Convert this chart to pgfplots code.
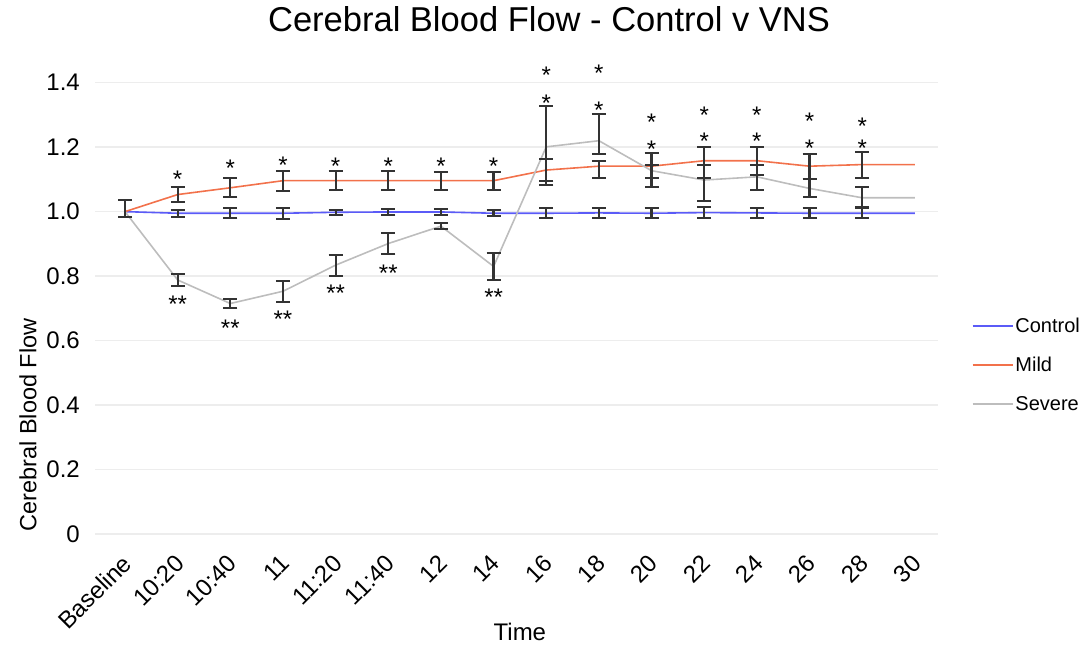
\documentclass[border=0pt]{standalone}
\usepackage{pgfplots}
\pgfplotsset{compat=1.18}
\usepackage{pgfplotstable}
\usepackage{fontspec}
\setmainfont{Liberation Sans}
\definecolor{ctrl}{HTML}{5B5BF7}
\definecolor{mild}{HTML}{F2714B}
\definecolor{sev}{HTML}{BDBDBD}
\definecolor{gridc}{HTML}{EDEDED}
\definecolor{errc}{HTML}{333333}

\pgfplotstableread{
x y
0 1.000
1 0.995
2 0.995
3 0.995
4 0.998
5 0.999
6 0.999
7 0.995
8 0.995
9 0.996
10 0.995
11 0.997
12 0.996
13 0.995
14 0.995
15 0.995
}\ctrl

\pgfplotstableread{
x y
0 1.000
1 1.053
2 1.074
3 1.096
4 1.096
5 1.096
6 1.096
7 1.096
8 1.129
9 1.141
10 1.141
11 1.158
12 1.158
13 1.141
14 1.146
15 1.146
}\mild

\pgfplotstableread{
x y
0 1.000
1 0.788
2 0.715
3 0.753
4 0.834
5 0.901
6 0.955
7 0.830
8 1.201
9 1.220
10 1.127
11 1.098
12 1.108
13 1.072
14 1.043
15 1.043
}\sev

\pgfplotstableread{
x y ep em
0 1.000 0.035 0.016
1 0.995 0.011 0.011
2 0.995 0.015 0.015
3 0.995 0.017 0.017
4 0.998 0.008 0.008
5 0.999 0.010 0.010
6 0.999 0.010 0.010
7 0.995 0.010 0.010
8 0.995 0.015 0.015
9 0.996 0.015 0.015
10 0.995 0.015 0.015
11 0.997 0.018 0.018
12 0.996 0.015 0.015
13 0.995 0.015 0.015
14 0.995 0.015 0.015
1 1.053 0.022 0.022
2 1.074 0.030 0.030
3 1.096 0.031 0.031
4 1.096 0.030 0.030
5 1.096 0.030 0.030
6 1.096 0.028 0.028
7 1.096 0.028 0.028
8 1.129 0.033 0.033
9 1.141 0.016 0.036
10 1.141 0.041 0.036
11 1.158 0.043 0.053
12 1.158 0.043 0.045
13 1.141 0.037 0.041
14 1.146 0.039 0.041
1 0.788 0.018 0.018
2 0.715 0.014 0.014
3 0.753 0.033 0.033
4 0.834 0.033 0.033
5 0.901 0.032 0.032
6 0.955 0.009 0.009
7 0.830 0.041 0.041
8 1.201 0.126 0.117
9 1.220 0.084 0.042
10 1.127 0.017 0.050
11 1.098 0.046 0.064
12 1.108 0.036 0.041
13 1.072 0.028 0.028
14 1.043 0.034 0.028
}\errs

\pgfplotstableread{
x y
1 1.118
2 1.151
3 1.162
4 1.158
5 1.158
6 1.160
7 1.158
8 1.441
8 1.354
9 1.447
9 1.332
10 1.296
10 1.211
11 1.317
11 1.237
12 1.317
12 1.237
13 1.299
13 1.215
14 1.282
14 1.215
}\onestar

\pgfplotstableread{
x y
1 0.731
2 0.657
3 0.685
4 0.764
5 0.827
7 0.751
}\twostar

\begin{document}
\begin{tikzpicture}
\useasboundingbox (0pt,0pt) rectangle (1087pt,647pt);
\begin{axis}[
  at={(95pt,113pt)}, anchor=south west,
  scale only axis, width=843pt, height=451.3pt,
  xmin=-0.57, xmax=15.44, ymin=0, ymax=1.4,
  clip=false,
  axis line style={draw=none},
  major tick length=0pt,
  xtick={0,...,15},
  xticklabels={Baseline,10:20,10:40,11,11:20,11:40,12,14,16,18,20,22,24,26,28,30},
  ytick={0,0.2,0.4,0.6,0.8,1,1.2,1.4},
  yticklabels={0,0.2,0.4,0.6,0.8,1.0,1.2,1.4},
  ymajorgrids,
  major grid style={draw=gridc, line width=1.5pt},
  tick label style={font=\fontsize{24}{28}\selectfont},
  yticklabel style={anchor=east, inner sep=0pt, xshift=-15pt},
  xticklabel style={xshift=-4pt, yshift=-19pt, rotate=45, anchor=north east, inner sep=0pt},
  title={Cerebral Blood Flow - Control v VNS},
  title style={at={(axis description cs:0.5386,1.128)}, anchor=center, font=\fontsize{34.5}{40}\selectfont},
  xlabel={Time},
  xlabel style={at={(axis description cs:0.504,-0.217)}, anchor=center, font=\fontsize{24}{28}\selectfont},
  ylabel={Cerebral Blood Flow},
  ylabel style={at={(axis description cs:-0.0795,0.2415)}, anchor=center, font=\fontsize{23.5}{28}\selectfont},
  legend style={at={(axis description cs:1.04,0.483)}, anchor=north west, draw=none, fill=none,
    font=\fontsize{20}{24}\selectfont, row sep=19pt, inner sep=0pt},
  legend cell align=left,
  legend image code/.code={\draw[#1, line width=1.5pt] (0pt,0pt) -- (40pt,0pt);},
]
\addplot[ctrl, line width=1.6pt, mark=none] table[x=x, y=y] {\ctrl};
\addlegendentry{Control}
\addplot[mild, line width=1.6pt, mark=none] table[x=x, y=y] {\mild};
\addlegendentry{Mild}
\addplot[sev, line width=1.6pt, mark=none] table[x=x, y=y] {\sev};
\addlegendentry{Severe}

\addplot[draw=none, mark=none, forget plot,
  error bars/.cd, y dir=both, y explicit,
  error bar style={draw=errc, line width=2.2pt},
  error mark options={rotate=90, mark size=7pt, draw=errc, line width=2pt}]
  table[x=x, y=y, y error plus=ep, y error minus=em] {\errs};

\addplot[draw=none, mark=none, forget plot, nodes near coords={*},
  every node near coord/.append style={font=\fontsize{24}{28}\selectfont, anchor=base, yshift=-14pt, inner sep=0pt, text=black}]
  table[x=x, y=y] {\onestar};
\addplot[draw=none, mark=none, forget plot, nodes near coords={**},
  every node near coord/.append style={font=\fontsize{24}{28}\selectfont, anchor=base, yshift=-14pt, inner sep=0pt, text=black}]
  table[x=x, y=y] {\twostar};
\end{axis}
\end{tikzpicture}
\end{document}
